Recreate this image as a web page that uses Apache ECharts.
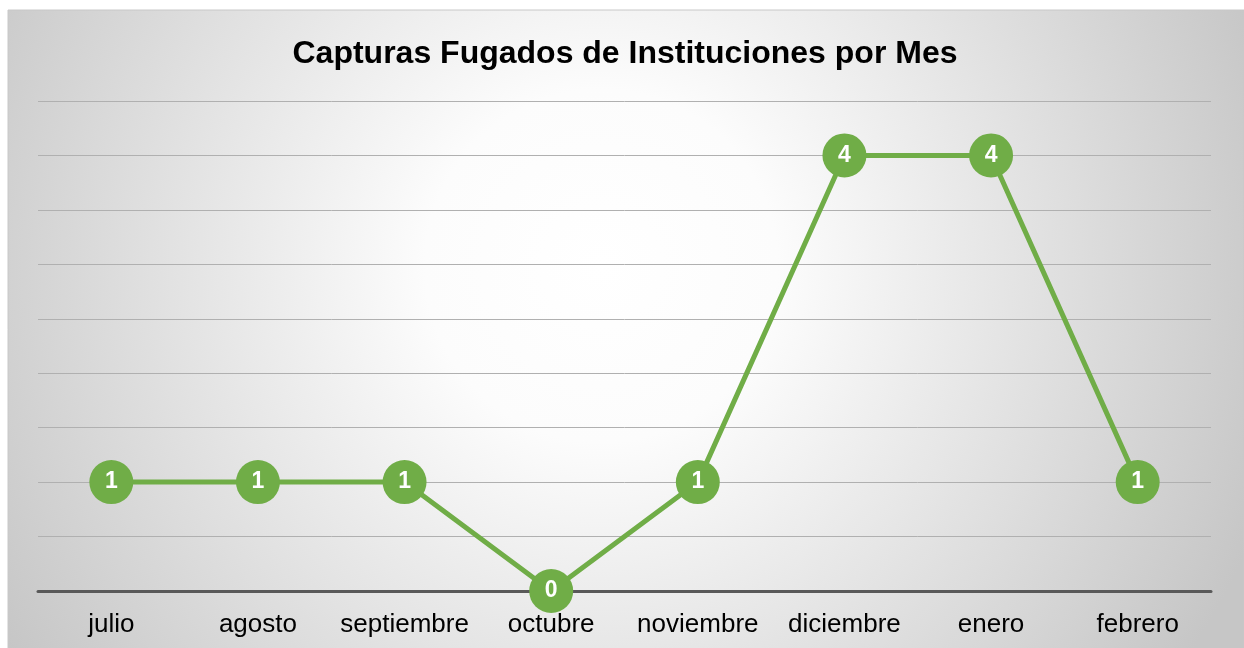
<!DOCTYPE html>
<html>
<head>
<meta charset="utf-8">
<script src="https://cdn.jsdelivr.net/npm/echarts@6/dist/echarts.min.js"></script>
<style>
  html, body { margin: 0; padding: 0; background: #fff; }
  #main { width: 1244px; height: 648px; }
</style>
</head>
<body>
<div id="main"></div>
<script>
// datos del grafico
const meses = ['julio', 'agosto', 'septiembre', 'octubre', 'noviembre', 'diciembre', 'enero', 'febrero'];
const capturas = [1, 1, 1, 0, 1, 4, 4, 1];
const titulo = 'Capturas Fugados de Instituciones por Mes';

const chart = echarts.init(document.getElementById('main'));

const option = {
  animation: false,
  textStyle: { fontFamily: 'Liberation Sans, Arial, sans-serif' },
  graphic: [{
    type: 'rect',
    z: -10,
    silent: true,
    shape: { x: 8, y: 10, width: 1236, height: 640 },
    style: {
      fill: new echarts.graphic.RadialGradient(0.48, 0.4, 1.1, [
        { offset: 0, color: '#ffffff' },
        { offset: 0.25, color: '#fcfcfc' },
        { offset: 1, color: '#c6c6c6' }
      ]),
      stroke: '#c8c8c8',
      lineWidth: 1
    }
  }],
  title: {
    text: titulo,
    left: 620,
    textAlign: 'center',
    top: 33,
    textStyle: { fontSize: 32, fontWeight: 'bold', color: '#000' }
  },
  grid: { left: 38, right: 33, top: 101, bottom: 57, containLabel: false },
  xAxis: {
    type: 'category',
    data: meses,
    boundaryGap: true,
    axisLine: { lineStyle: { color: '#595959', width: 3 } },
    axisTick: { show: false },
    axisLabel: { color: '#000', fontSize: 26, margin: 21, interval: 0 }
  },
  yAxis: {
    type: 'value',
    min: 0,
    max: 4.5,
    interval: 0.5,
    axisLabel: { show: false },
    axisLine: { show: false },
    splitLine: { lineStyle: { color: '#b0b0b0', width: 1 } }
  },
  series: [{
    type: 'line',
    data: capturas,
    symbol: 'circle',
    symbolSize: 44,
    lineStyle: { color: '#70ad47', width: 5 },
    itemStyle: { color: '#70ad47' },
    label: {
      show: true,
      position: 'inside',
      color: '#fff',
      fontSize: 23,
      fontWeight: 'bold'
    }
  }]
};

chart.setOption(option);
</script>
</body>
</html>
